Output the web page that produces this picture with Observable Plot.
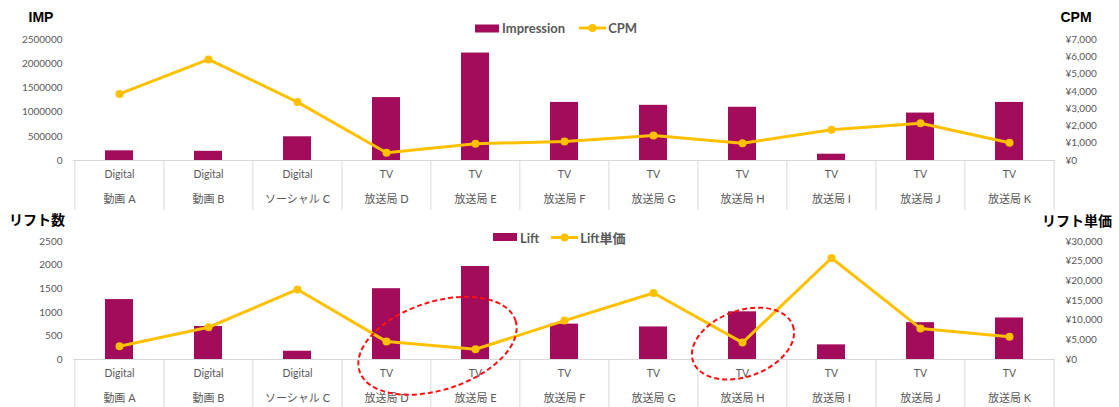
<!DOCTYPE html>
<html>
<head>
<meta charset="utf-8">
<script src="https://cdn.jsdelivr.net/npm/d3@7"></script>
<script src="https://cdn.jsdelivr.net/npm/@observablehq/plot@0.6"></script>
<style>
  html, body { margin: 0; padding: 0; background: #fff; }
  #root { position: relative; width: 1119px; height: 407px; overflow: hidden; font-family: Lato, "Noto Sans CJK JP", sans-serif; }
  #root svg.plot-svg { position: absolute; left: 0; }
  .title { position: absolute; transform: translate(-50%, -50%); font-family: "Liberation Sans", "Noto Sans CJK JP", sans-serif; font-weight: bold; font-size: 14px; color: #000; white-space: nowrap; }
  .legend { position: absolute; display: flex; align-items: center; font-weight: bold; font-size: 13px; color: #595959; white-space: nowrap; transform: translateY(-50%); }
  .legend svg { display: block; }
</style>
</head>
<body>
<div id="root"></div>
<script>
// ---- data ----
const categories = ["動画 A", "動画 B", "ソーシャル C", "放送局 D", "放送局 E", "放送局 F", "放送局 G", "放送局 H", "放送局 I", "放送局 J", "放送局 K"];
const groups = ["Digital", "Digital", "Digital", "TV", "TV", "TV", "TV", "TV", "TV", "TV", "TV"];

const impressions = [200000, 190000, 490000, 1300000, 2220000, 1200000, 1140000, 1100000, 130000, 980000, 1200000];
const cpm = [3850, 5850, 3380, 450, 970, 1100, 1450, 1000, 1780, 2150, 1030];

const lifts = [1270, 700, 175, 1500, 1970, 750, 690, 1010, 310, 780, 880];
const liftUnitPrice = [3360, 8200, 17800, 4550, 2600, 9900, 16900, 4300, 25800, 7900, 5800];

const impTicks = [0, 500000, 1000000, 1500000, 2000000, 2500000];
const cpmTicks = [0, 1000, 2000, 3000, 4000, 5000, 6000, 7000];
const liftTicks = [0, 500, 1000, 1500, 2000, 2500];
const liftPriceTicks = [0, 5000, 10000, 15000, 20000, 25000, 30000];

// highlighted groups (bottom chart)
const highlights = [
  {from: "放送局 D", to: "放送局 E", value: 280},
  {from: "放送局 H", to: "放送局 H", value: 327}
];
const highlightStyle = [
  {dx: 7, rx: 82, ry: 44, angle: -18},
  {dx: 1, rx: 53, ry: 33, angle: -20}
];

// ---- styles ----
const BAR = "#A20C5A";
const LINE = "#FFC000";
const GRID = "#D9D9D9";
const TXT = "#595959";
const W = 1119, ML = 73, MR = 64;
const step = (W - ML - MR) / categories.length;

function makeChart({bars, line, yMax, y2Max, leftTicks, rightTicks, leftFmt, rightFmt, height, marginTop, marginBottom, row1, row2, extend}) {
  const k = yMax / y2Max;
  const data = categories.map((c, i) => ({cat: c, group: groups[i], bar: bars[i], line: line[i] * k}));
  const frameH = height - marginTop - marginBottom;
  return Plot.plot({
    width: W, height, marginLeft: ML, marginRight: MR, marginTop, marginBottom,
    style: {background: "transparent", fontFamily: 'Lato, "Noto Sans CJK JP", sans-serif', fontSize: "10px", color: TXT, overflow: "visible"},
    x: {domain: categories, paddingInner: 0.69, paddingOuter: 0.345, align: 0.5, axis: null},
    y: {domain: [0, yMax], axis: null},
    marks: [
      Plot.axisY(leftTicks, {anchor: "left", tickSize: 0, tickPadding: 11, tickFormat: leftFmt, fill: TXT, fontSize: 10}),
      Plot.axisY(rightTicks.map(v => v * k), {anchor: "right", tickSize: 0, tickPadding: 10, tickFormat: d => rightFmt(Math.round(d / k)), fill: TXT, fontSize: 10}),
      Plot.barY(data, {x: "cat", y: "bar", fill: BAR}),
      Plot.ruleY([0], {stroke: GRID, strokeWidth: 1}),
      Plot.ruleX(data, {x: "cat", dx: -step / 2, insetTop: frameH, insetBottom: -extend, stroke: GRID, strokeWidth: 1}),
      Plot.ruleX([categories[categories.length - 1]], {dx: step / 2, insetTop: frameH, insetBottom: -extend, stroke: GRID, strokeWidth: 1}),
      Plot.text(data, {x: "cat", text: "group", frameAnchor: "bottom", dy: row1, fill: TXT, fontSize: 10.5}),
      Plot.text(data, {x: "cat", text: "cat", frameAnchor: "bottom", dy: row2, fill: TXT, fontSize: 11}),
      Plot.line(data, {x: "cat", y: "line", stroke: LINE, strokeWidth: 3}),
      Plot.dot(data, {x: "cat", y: "line", fill: LINE, r: 4})
    ]
  });
}

const root = document.getElementById("root");
const intFmt = d3.format("d");
const yen = v => "¥" + d3.format(",")(v);

const topChart = makeChart({
  bars: impressions, line: cpm, yMax: 2500000, y2Max: 7000,
  leftTicks: impTicks, rightTicks: cpmTicks, leftFmt: intFmt, rightFmt: yen,
  height: 212, marginTop: 39, marginBottom: 52, row1: 17, row2: 42, extend: 50
});
topChart.classList.add("plot-svg");
topChart.style.top = "0px";
root.appendChild(topChart);

const bottomChart = makeChart({
  bars: lifts, line: liftUnitPrice, yMax: 2500, y2Max: 30000,
  leftTicks: liftTicks, rightTicks: liftPriceTicks, leftFmt: intFmt, rightFmt: yen,
  height: 202, marginTop: 36, marginBottom: 48, row1: 17, row2: 42, extend: 48
});
bottomChart.classList.add("plot-svg");
bottomChart.style.top = "205px";
root.appendChild(bottomChart);

// highlight ellipses, positioned with the bottom chart's scales
{
  const xs = bottomChart.scale("x"), ys = bottomChart.scale("y");
  const bw = xs.bandwidth || 0;
  const svg = d3.select(bottomChart);
  highlights.forEach((h, i) => {
    const s = highlightStyle[i];
    const cx = (xs.apply(h.from) + xs.apply(h.to)) / 2 + bw / 2 + s.dx;
    const cy = ys.apply(h.value);
    svg.append("ellipse")
      .attr("cx", cx).attr("cy", cy).attr("rx", s.rx).attr("ry", s.ry)
      .attr("transform", `rotate(${s.angle} ${cx} ${cy})`)
      .attr("fill", "none").attr("stroke", "#FF1010").attr("stroke-width", 2).attr("stroke-dasharray", "5,3");
  });
}

// titles
function addTitle(text, cx, cy) {
  const d = document.createElement("div");
  d.className = "title"; d.textContent = text;
  d.style.left = cx + "px"; d.style.top = cy + "px";
  root.appendChild(d);
}
addTitle("IMP", 41, 17);
addTitle("CPM", 1076, 17);
addTitle("リフト数", 37, 219);
addTitle("リフト単価", 1077, 220);

// legends
function addLegend(left, cy, barLabel, lineLabel, gap) {
  const d = document.createElement("div");
  d.className = "legend";
  d.style.left = left + "px"; d.style.top = cy + "px";
  d.innerHTML =
    `<svg width="24" height="9"><rect x="0" y="0.5" width="24" height="8" fill="${BAR}"/></svg>` +
    `<span style="margin-left:3px">${barLabel}</span>` +
    `<svg width="27" height="10" style="margin-left:${gap}px"><line x1="0" x2="27" y1="5" y2="5" stroke="${LINE}" stroke-width="3"/><circle cx="13.5" cy="5" r="4" fill="${LINE}"/></svg>` +
    `<span style="margin-left:2px">${lineLabel}</span>`;
  root.appendChild(d);
}
addLegend(475, 28, "Impression", "CPM", 14);
addLegend(493, 237, "Lift", "Lift単価", 12);
</script>
</body>
</html>
